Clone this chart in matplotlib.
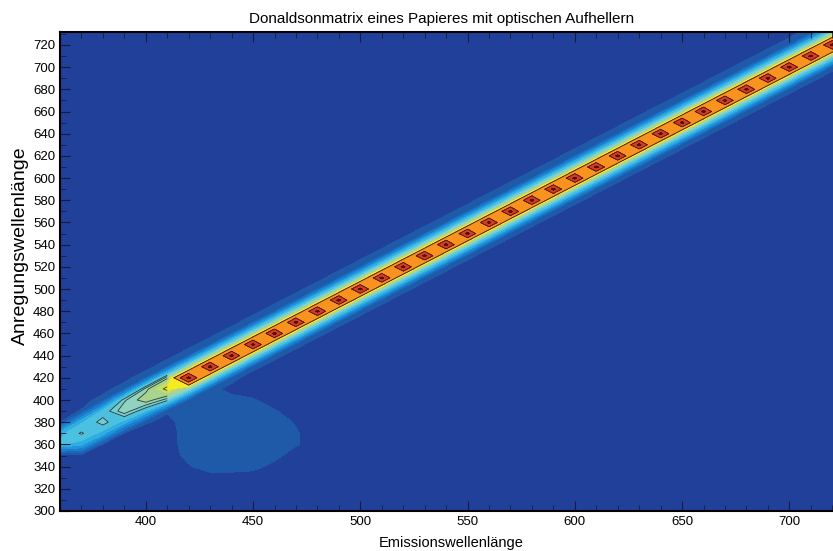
#coding:utf-8

import numpy as np
import matplotlib.pyplot as plt
from matplotlib.colors import ListedColormap, BoundaryNorm

plt.rcParams['font.family'] = ['Liberation Sans', 'DejaVu Sans']

# grid of the measurement (nm)
emission = np.arange(360, 731, 10)
excitation = np.arange(300, 731, 10)

# scatter diagonal (em == ex), for ex = 360 ... 730
diag_peak = [0.31, 0.37, 0.39, 0.45, 0.50, 0.60, 1.00, 1.00, 1.00, 1.00,
             1.00, 1.00, 1.00, 1.00, 1.00, 1.00, 1.00, 1.00, 1.00, 1.00,
             1.00, 1.00, 1.00, 1.00, 1.00, 1.00, 1.00, 1.00, 1.00, 1.00,
             1.00, 1.00, 1.00, 1.00, 1.00, 1.00, 1.00, 1.00]
# neighbours above the diagonal (em = ex - 10, ex - 20)
upper1 = [0.27, 0.28, 0.29, 0.32, 0.40, 0.44, 0.45, 0.45, 0.45, 0.45,
          0.45, 0.45, 0.45, 0.45, 0.45, 0.45, 0.45, 0.45, 0.45, 0.45,
          0.45, 0.45, 0.45, 0.45, 0.45, 0.45, 0.45, 0.45, 0.45, 0.45,
          0.45, 0.45, 0.45, 0.45, 0.45, 0.45, 0.45, 0.45]
upper2 = [0.02, 0.02, 0.02, 0.03, 0.05, 0.06, 0.07, 0.07, 0.07, 0.07,
          0.07, 0.07, 0.07, 0.07, 0.07, 0.07, 0.07, 0.07, 0.07, 0.07,
          0.07, 0.07, 0.07, 0.07, 0.07, 0.07, 0.07, 0.07, 0.07, 0.07,
          0.07, 0.07, 0.07, 0.07, 0.07, 0.07, 0.07, 0.07]
# neighbours below the diagonal (em = ex + 10, ex + 20)
lower1 = [0.26, 0.27, 0.27, 0.30, 0.38, 0.42, 0.42, 0.42, 0.42, 0.42,
          0.42, 0.42, 0.42, 0.42, 0.42, 0.42, 0.42, 0.42, 0.42, 0.42,
          0.42, 0.42, 0.42, 0.42, 0.42, 0.42, 0.42, 0.42, 0.42, 0.42,
          0.42, 0.42, 0.42, 0.42, 0.42, 0.42, 0.42, 0.42]
lower2 = [0.02, 0.02, 0.03, 0.03, 0.04, 0.04, 0.04, 0.04, 0.04, 0.04,
          0.04, 0.04, 0.04, 0.04, 0.04, 0.04, 0.04, 0.04, 0.04, 0.04,
          0.04, 0.04, 0.04, 0.04, 0.04, 0.04, 0.04, 0.04, 0.04, 0.04,
          0.04, 0.04, 0.04, 0.04, 0.04, 0.04, 0.04, 0.04]

# fluorescence of the brightener: ex 330..410, em 410..480
blob_ex = [330, 340, 350, 360, 370, 380, 390, 400, 410]
blob_em = [410, 420, 430, 440, 450, 460, 470, 480]
blob = [
    [0.00, 0.00, 0.00, 0.00, 0.00, 0.00, 0.00, 0.00],
    [0.00, 0.02, 0.05, 0.05, 0.04, 0.01, 0.00, 0.00],
    [0.00, 0.04, 0.06, 0.06, 0.06, 0.04, 0.00, 0.00],
    [0.00, 0.05, 0.06, 0.06, 0.06, 0.05, 0.03, 0.00],
    [0.00, 0.05, 0.06, 0.06, 0.06, 0.05, 0.03, 0.00],
    [0.01, 0.05, 0.06, 0.06, 0.06, 0.05, 0.02, 0.00],
    [0.03, 0.05, 0.06, 0.06, 0.05, 0.03, 0.00, 0.00],
    [0.04, 0.05, 0.05, 0.04, 0.03, 0.00, 0.00, 0.00],
    [0.00, 0.03, 0.03, 0.01, 0.00, 0.00, 0.00, 0.00],
]

# build the matrix
ex_list = list(excitation)
em_list = list(emission)
Z = np.zeros((len(excitation), len(emission)))
for i, ex in enumerate(range(360, 731, 10)):
    r = ex_list.index(ex)
    c = em_list.index(ex)
    Z[r, c] = diag_peak[i]
    for dc, v in [(-1, upper1[i]), (-2, upper2[i]), (1, lower1[i]), (2, lower2[i])]:
        if 0 <= c + dc < len(emission):
            Z[r, c + dc] = max(Z[r, c + dc], v)
for i, ex in enumerate(blob_ex):
    for j, em in enumerate(blob_em):
        r = ex_list.index(ex)
        c = em_list.index(em)
        Z[r, c] = max(Z[r, c], blob[i][j])

levels = [-0.01, 0.025, 0.07, 0.12, 0.18, 0.24, 0.30, 0.36, 0.41, 0.46, 0.52, 0.57, 0.62,
          0.78, 0.95, 1.1]
colors = ['#21409a', '#1f5aa8', '#1c66bc', '#1a7ccc', '#1e94da', '#2eaee2',
          '#4cc0e0', '#70ccd6', '#8fd3c0', '#a8d490', '#cadc60', '#f6ea20',
          '#f7931e', '#d83a22', '#6a1010']
cmap = ListedColormap(colors)
norm = BoundaryNorm(levels, cmap.N)

fig = plt.figure(figsize=(8.33, 5.51), dpi=100)
ax = fig.add_axes([0.072, 0.0726, 0.94, 0.87])
ax.contourf(emission, excitation, Z, levels=levels, cmap=cmap, norm=norm)
ax.contour(emission, excitation, Z, levels=[0.62, 0.78, 0.95],
           colors='#3a1a10', linewidths=0.6)
# outlines of the weak part of the diagonal
Zlow = np.ma.masked_where(np.meshgrid(emission, excitation)[0] > 415, Z)
ax.contour(emission, excitation, Zlow, levels=[0.36, 0.41, 0.46, 0.57],
           colors='#2a3a30', linewidths=0.6)

ax.set_xlim(360, 725)
ax.set_ylim(300, 732)
ax.set_xticks(range(400, 701, 50))
ax.set_xticks(range(360, 726, 10), minor=True)
ax.set_yticks(range(300, 721, 20))
ax.set_yticks(range(300, 731, 10), minor=True)
ax.tick_params(which='both', direction='in', top=True, right=False, labelsize=9.5,
               color='#1a1a40')
ax.tick_params(which='major', length=7, width=0.8)
ax.tick_params(which='minor', length=4, width=0.6)
for s in ['left', 'top', 'bottom']:
    ax.spines[s].set_linewidth(1.5)
ax.spines['right'].set_visible(False)

ax.set_title('Donaldsonmatrix eines Papieres mit optischen Aufhellern', fontsize=11,
             pad=6, x=0.487)
ax.set_xlabel('Emissionswellenlänge', fontsize=10.5, labelpad=6)
ax.set_ylabel('Anregungswellenlänge', fontsize=14)
ax.yaxis.set_label_coords(-0.039, 0.553)

plt.savefig('out.png', dpi=100)
